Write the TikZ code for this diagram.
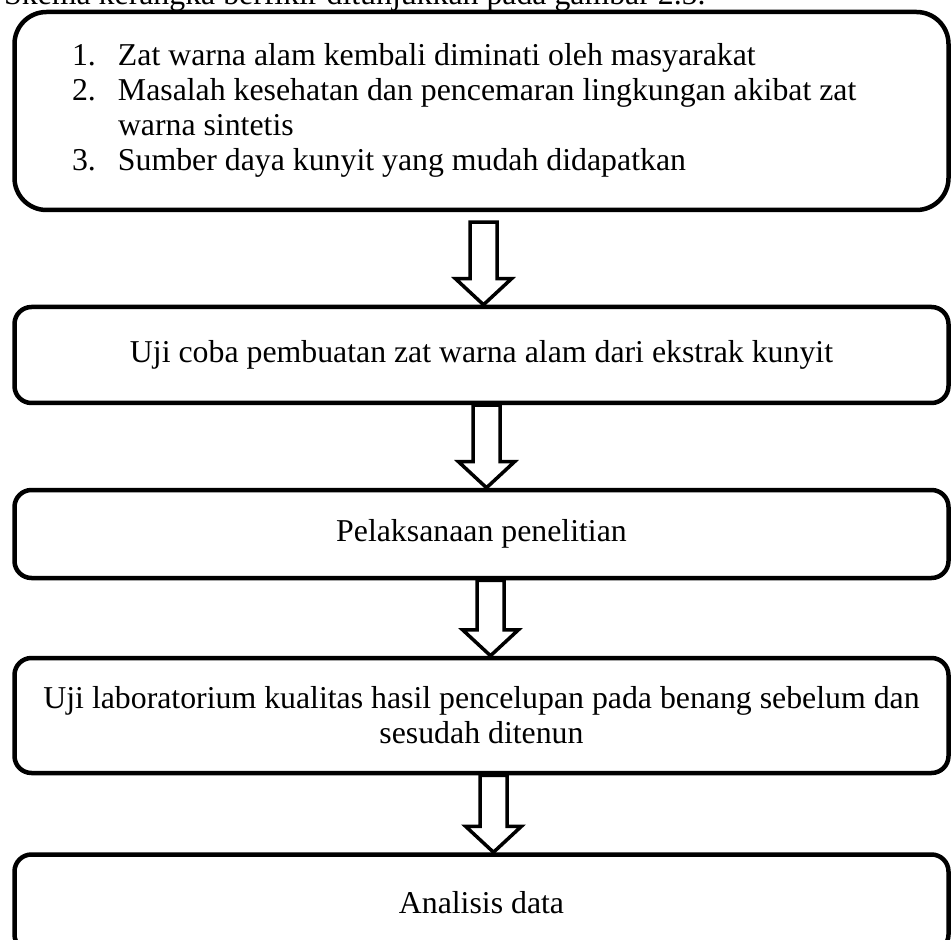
\documentclass[tikz,border=0pt]{standalone}
\usepackage{fontspec}
\setmainfont{Liberation Serif}
\usetikzlibrary{calc}
\usetikzlibrary{positioning}

\begin{document}
\begin{tikzpicture}[
    font=\fontsize{18.1pt}{19.9pt}\selectfont,
    box/.style={draw, line width=0.09cm, rounded corners=0.34cm,
      minimum width=18.68cm, inner sep=0pt, align=center},
    blockarrow/.style={draw, fill=white, line width=0.07cm, line join=miter}]
  \useasboundingbox (0,0) rectangle (19.02,-18.8);

  \node[anchor=base west] (caption) at (-0.04,-0.09)
    {Skema kerangka berfikir ditunjukkan pada gambar 2.5.};

  \node[box, rounded corners=0.64cm, minimum height=3.96cm] (masalah) at (9.63,-2.22)
    {\begin{tabular}{@{}p{0.92cm}@{}p{15.46cm}@{}}
      1. & Zat warna alam kembali diminati oleh masyarakat\\
      2. & Masalah kesehatan dan pencemaran lingkungan akibat zat\\
         & warna sintetis\\
      3. & Sumber daya kunyit yang mudah didapatkan
    \end{tabular}};
  \node[box, minimum height=1.92cm] (ujicoba) at (9.63,-7.10)
    {Uji coba pembuatan zat warna alam dari ekstrak kunyit};
  \node[box, minimum height=1.76cm] (pelaksanaan) at (9.63,-10.68)
    {Pelaksanaan penelitian};
  \node[box, minimum height=2.30cm] (ujilab) at (9.63,-14.31)
    {Uji laboratorium kualitas hasil pencelupan pada benang sebelum dan\\
     sesudah ditenun};
  \node[box, minimum height=1.94cm] (analisis) at (9.63,-18.06)
    {Analisis data};

  % hollow arrows between the boxes
  \foreach \a/\b/\dx/\gap in {masalah/ujicoba/0.04cm/0.2cm,
      ujicoba/pelaksanaan/0.10cm/0cm, pelaksanaan/ujilab/0.18cm/0cm,
      ujilab/analisis/0.24cm/0cm}
    \draw[blockarrow] let \p1=(\a.south), \p2=(\b.north) in
      ({\x1+\dx-0.27cm},{\y1-\gap})
      -- ({\x1+\dx-0.27cm},{\y2+0.52cm})
      -- ({\x1+\dx-0.56cm},{\y2+0.52cm})
      -- ({\x1+\dx},{\y2})
      -- ({\x1+\dx+0.56cm},{\y2+0.52cm})
      -- ({\x1+\dx+0.27cm},{\y2+0.52cm})
      -- ({\x1+\dx+0.27cm},{\y1-\gap})
      -- cycle;
\end{tikzpicture}
\end{document}
